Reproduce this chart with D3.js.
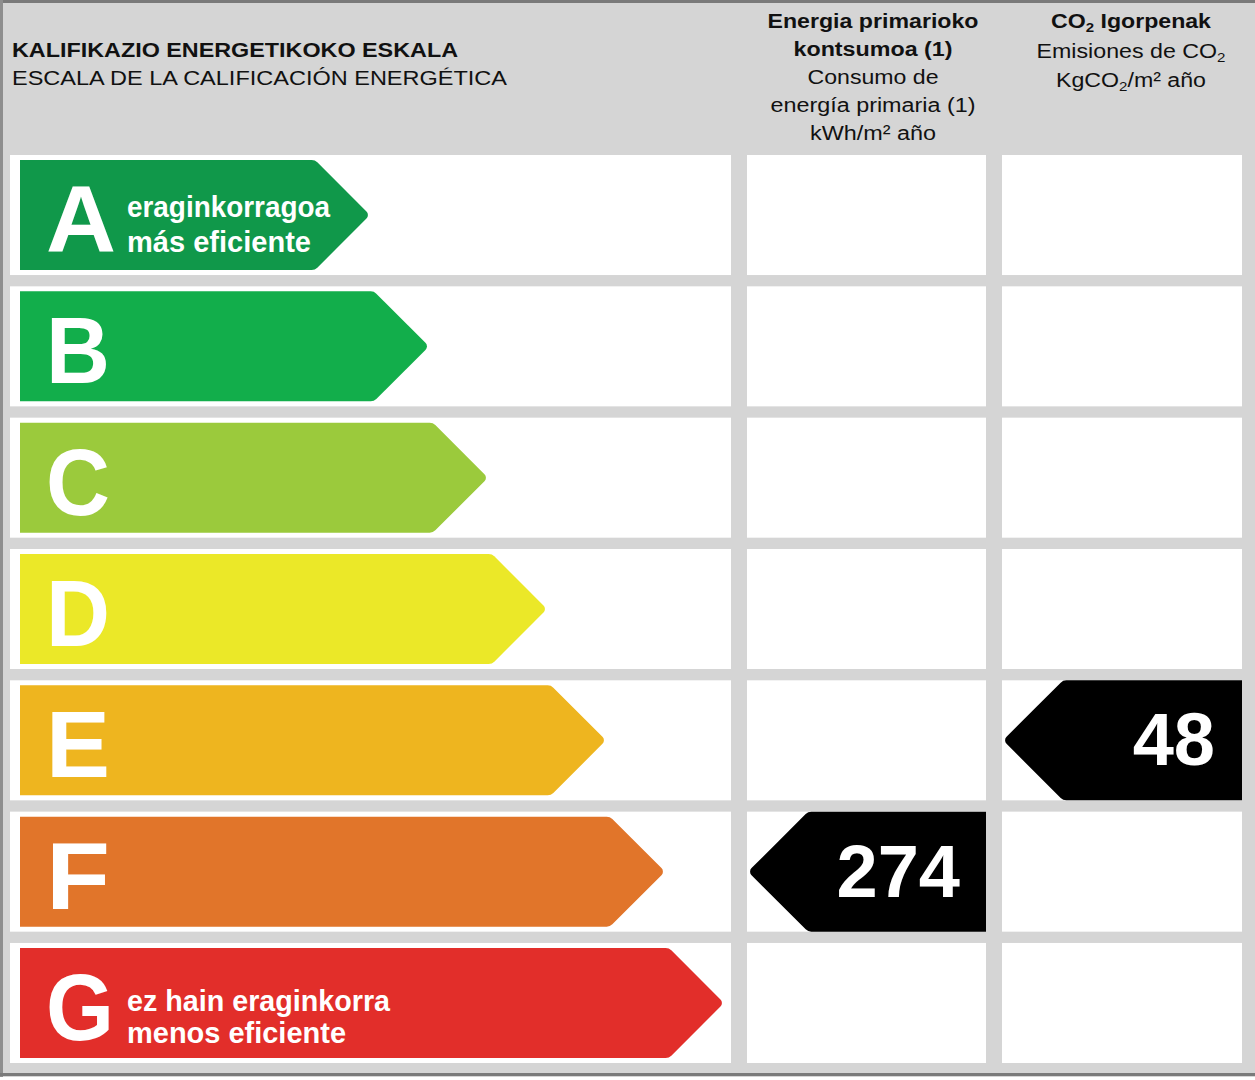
<!DOCTYPE html>
<html><head><meta charset="utf-8">
<script src="https://cdn.jsdelivr.net/npm/d3@7"></script>
<style>html,body{margin:0;padding:0;background:#fff;}svg{display:block;font-family:"Liberation Sans",Arial,sans-serif;}</style>
</head><body>
<svg id="c" width="1255" height="1080"></svg>
<script>
// ---- data ----
const classes = ["A","B","C","D","E","F","G"];
const classColors = ["#10984a","#12ae4b","#9bca3c","#ebe828","#eeb51f","#e1752a","#e22e2a"];
const topLabel = ["eraginkorragoa","más eficiente"];
const bottomLabel = ["ez hain eraginkorra","menos eficiente"];
const energyValue = 274, energyClass = "F";
const co2Value = 48, co2Class = "E";
const headerLeft = ["KALIFIKAZIO ENERGETIKOKO ESKALA","ESCALA DE LA CALIFICACIÓN ENERGÉTICA"];

const svg = d3.select("#c");
const W = 1255, H = 1080;
svg.append("rect").attr("width",W).attr("height",1077).attr("fill","#d5d5d5");
// frame lines
svg.append("rect").attr("x",0).attr("y",0).attr("width",W).attr("height",3).attr("fill","#7a7a7a");
svg.append("rect").attr("x",0).attr("y",0).attr("width",3).attr("height",1077).attr("fill","#8e8e8e");
svg.append("rect").attr("x",0).attr("y",1073).attr("width",W).attr("height",3).attr("fill","#7a7a7a");

const y = d3.scaleBand().domain(classes).range([155,1063]).paddingInner(0.086).paddingOuter(0);
const tip = d3.scaleLinear().domain([0,6]).range([370,724]);
const cols = {left:[10,731], mid:[747,986], right:[1002,1242]};

// white cells
const cellG = svg.append("g");
Object.values(cols).forEach(c=>{
  cellG.selectAll(null).data(classes).enter().append("rect")
    .attr("x",c[0]).attr("y",d=>y(d)).attr("width",c[1]-c[0]).attr("height",y.bandwidth())
    .attr("fill","#fff");
});

function roundedPoly(pts, radii){
  const p = d3.path();
  const n = pts.length;
  const mid = (a,b)=>[(a[0]+b[0])/2,(a[1]+b[1])/2];
  const start = mid(pts[n-1],pts[0]);
  p.moveTo(start[0],start[1]);
  for(let i=0;i<n;i++){
    const cur = pts[i], nxt = pts[(i+1)%n];
    if(radii[i]>0) p.arcTo(cur[0],cur[1],nxt[0],nxt[1],radii[i]);
    else p.lineTo(cur[0],cur[1]);
  }
  p.closePath();
  return p.toString();
}

// class arrows
const inset = 5;
const arrows = svg.append("g");
classes.forEach((c,i)=>{
  const t = y(c)+inset, b = y(c)+y.bandwidth()-inset, h = b-t, tx = tip(i);
  const bodyEnd = tx - h/2;
  arrows.append("path")
    .attr("d", roundedPoly([[20,t],[bodyEnd,t],[tx,(t+b)/2],[bodyEnd,b],[20,b]],[0,8,5,8,0]))
    .attr("fill", classColors[i]);
  arrows.append("text").attr("x",46).attr("y",(t+b)/2+37)
    .attr("font-size",94).attr("font-weight","bold").attr("fill","#fff")
    .attr("textLength",c==="A"?70:(c==="G"?68:64)).attr("lengthAdjust","spacingAndGlyphs").text(c);
});

function label(lines, cls){
  const cy = y(cls)+y.bandwidth()/2;
  const g = svg.append("g").attr("fill","#fff").attr("font-weight","bold").attr("font-size",30);
  const widths = cls==="A"?[203,184]:[263,219];
  const off = cls==="A"?[2,37]:[8,40];
  g.append("text").attr("x",127).attr("y",cy+off[0]).attr("textLength",widths[0]).attr("lengthAdjust","spacingAndGlyphs").text(lines[0]);
  g.append("text").attr("x",127).attr("y",cy+off[1]).attr("textLength",widths[1]).attr("lengthAdjust","spacingAndGlyphs").text(lines[1]);
}
label(topLabel,"A");
label(bottomLabel,"G");

// value markers
function marker(col, cls, val, textRight){
  const t = y(cls), b = y(cls)+y.bandwidth(), h=b-t;
  const x0 = col[0]+1, x1 = col[1];
  svg.append("path")
    .attr("d", roundedPoly([[x0+h/2,t],[x1,t],[x1,b],[x0+h/2,b],[x0,(t+b)/2]],[8,0,0,8,5]))
    .attr("fill","#000");
  svg.append("text").attr("x",textRight).attr("y",(t+b)/2+25).attr("text-anchor","end")
    .attr("font-size",74).attr("font-weight","bold").attr("fill","#fff").text(val);
}
marker(cols.mid, energyClass, energyValue, 960);
marker(cols.right, co2Class, co2Value, 1215);

// headers
const hg = svg.append("g").attr("fill","#111").attr("font-size",20);
hg.append("text").attr("x",12).attr("y",57).attr("font-weight","bold").attr("textLength",446).attr("lengthAdjust","spacingAndGlyphs").text(headerLeft[0]);
hg.append("text").attr("x",12).attr("y",85).attr("textLength",495).attr("lengthAdjust","spacingAndGlyphs").text(headerLeft[1]);

const midLines = [
  {t:"Energia primarioko",b:true,y:28,w:211},
  {t:"kontsumoa (1)",b:true,y:56,w:159},
  {t:"Consumo de",b:false,y:84,w:131},
  {t:"energía primaria (1)",b:false,y:112,w:205},
  {t:"kWh/m² año",b:false,y:140,w:126}
];
midLines.forEach(l=>{
  hg.append("text").attr("x",873).attr("y",l.y).attr("text-anchor","middle")
    .attr("font-weight",l.b?"bold":"normal").attr("textLength",l.w).attr("lengthAdjust","spacingAndGlyphs").text(l.t);
});
function sub2(parts, x, yy, bold, w){
  const t = hg.append("text").attr("x",x).attr("y",yy).attr("text-anchor","middle")
    .attr("font-weight",bold?"bold":"normal").attr("textLength",w).attr("lengthAdjust","spacingAndGlyphs");
  parts.forEach(p=>{
    if(p==="2") t.append("tspan").attr("font-size",13).attr("dy",4).text("2");
    else { const s=t.append("tspan").text(p); if(t.node().childNodes.length>1) s.attr("dy",-4); }
  });
}
sub2(["CO","2"," Igorpenak"],1131,28,true,160);
sub2(["Emisiones de CO","2"],1131,58,false,189);
sub2(["KgCO","2","/m² año"],1131,87,false,150);
</script>
</body></html>
